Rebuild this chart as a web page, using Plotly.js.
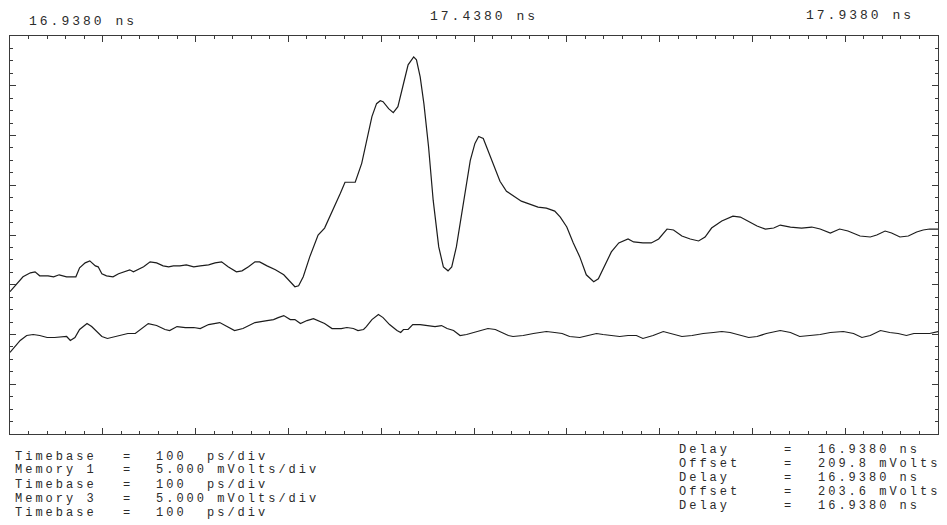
<!DOCTYPE html>
<html>
<head>
<meta charset="utf-8">
<script src="https://cdn.plot.ly/plotly-3.0.1.min.js"></script>
<style>
  html, body { margin: 0; padding: 0; background: #fff; }
  #chart { width: 947px; height: 525px; }
  .annotation-text { letter-spacing: 3px; }
</style>
</head>
<body>
<div id="chart"></div>
<script>
// Time after trigger delay (ps), 100 ps/div
const mem1Time = [0,7,14,22,27,32,41,47,53,61,71,75,81,86,92,95,99,104,111,117,124,129,133,137,144,151,158,165,171,176,183,190,198,205,214,221,228,235,244,250,257,264,269,277,286,295,302,307,311,316,323,332,339,348,356,361,372,379,384,390,395,399,402,408,413,418,424,429,435,438,442,446,451,456,462,467,472,476,481,489,496,501,505,510,515,521,528,535,542,551,560,569,578,587,593,600,607,614,621,629,634,641,648,656,666,672,682,691,699,708,715,724,733,742,749,756,767,779,787,797,805,814,823,830,841,853,864,873,884,894,903,916,927,934,943,950,959,968,977,984,991,1000];
// Memory 1 (mV relative to screen centre, 5 mV/div)
const mem1Volt = [-5.7,-5.0,-4.2,-3.8,-3.7,-4.1,-4.1,-4.2,-4.0,-4.2,-4.2,-3.3,-2.8,-2.6,-3.1,-3.2,-3.9,-4.1,-4.2,-3.9,-3.7,-3.5,-3.7,-3.5,-3.2,-2.7,-2.8,-3.1,-3.2,-3.1,-3.1,-3.0,-3.2,-3.1,-3.0,-2.8,-2.7,-3.2,-3.7,-3.6,-3.2,-2.7,-2.7,-3.1,-3.5,-4.0,-4.7,-5.2,-5.1,-4.2,-2.2,0.0,0.7,2.5,4.2,5.3,5.3,7.2,9.2,11.9,13.2,13.5,13.4,12.7,12.3,12.9,15.2,17.1,17.9,17.6,15.9,13.2,8.9,3.5,-1.2,-3.2,-3.6,-3.2,-1.2,3.5,7.5,9.2,9.9,9.7,8.5,7.0,5.4,4.4,4.0,3.4,3.1,2.8,2.7,2.4,1.8,0.8,-0.8,-2.2,-4.0,-4.7,-4.4,-3.0,-1.7,-0.8,-0.4,-0.7,-0.8,-0.8,-0.4,0.6,0.5,-0.1,-0.4,-0.6,-0.2,0.7,1.4,1.9,1.8,1.3,0.9,0.6,0.7,1.0,0.8,0.7,0.8,0.6,0.2,0.6,0.4,-0.1,-0.2,0.0,0.4,0.2,-0.2,-0.1,0.3,0.5,0.6,0.6];

const mem3Time = [0,5,11,18,25,32,40,48,56,61,65,70,75,83,88,93,99,105,113,122,127,135,142,149,158,167,172,180,189,198,205,214,226,234,242,251,264,277,284,289,295,302,307,313,320,327,332,339,347,357,363,370,375,381,384,390,397,402,409,417,421,424,429,434,442,451,458,465,471,478,485,492,499,508,515,523,530,537,542,553,564,571,578,587,595,603,614,623,632,639,648,657,666,675,682,693,704,711,717,724,735,747,758,767,776,787,796,805,815,830,841,851,862,873,884,898,909,918,927,938,948,957,966,974,984,991,1000];
// Memory 3 (mV relative to screen centre, 5 mV/div)
const mem3Volt = [-11.8,-11.2,-10.6,-10.1,-10.0,-10.1,-10.3,-10.3,-10.2,-10.2,-10.6,-10.3,-9.5,-8.9,-9.2,-9.7,-10.2,-10.4,-10.2,-10.0,-9.9,-9.9,-9.4,-8.9,-9.1,-9.5,-9.6,-9.2,-9.3,-9.3,-9.4,-9.0,-8.8,-9.2,-9.6,-9.4,-8.8,-8.6,-8.5,-8.3,-8.1,-8.5,-8.5,-8.9,-8.6,-8.4,-8.6,-8.9,-9.4,-9.4,-9.3,-9.4,-9.6,-9.5,-9.2,-8.5,-8.0,-8.3,-9.0,-9.6,-9.8,-9.5,-9.5,-9.0,-9.0,-9.1,-9.2,-9.1,-9.4,-9.6,-10.1,-10.0,-9.8,-9.6,-9.4,-9.5,-9.8,-10.1,-10.2,-10.1,-9.9,-9.8,-9.7,-9.8,-9.9,-10.2,-10.3,-10.1,-9.9,-10.0,-10.1,-10.2,-10.1,-10.1,-10.4,-10.1,-9.7,-9.9,-10.0,-10.2,-10.1,-9.9,-9.8,-9.7,-9.8,-10.1,-10.3,-10.2,-9.9,-9.6,-9.8,-10.2,-10.1,-10.0,-9.8,-9.7,-9.9,-10.3,-10.1,-9.6,-9.8,-9.9,-10.1,-9.9,-9.9,-9.9,-9.7];

const topLabels = ['16.9380 ns', '17.4380 ns', '17.9380 ns'];
const leftNames = ['Timebase', 'Memory 1', 'Timebase', 'Memory 3', 'Timebase'];
const leftValues = ['100  ps/div', '5.000 mVolts/div', '100  ps/div', '5.000 mVolts/div', '100  ps/div'];
const rightNames = ['Delay', 'Offset', 'Delay', 'Offset', 'Delay'];
const rightValues = ['16.9380 ns', '209.8 mVolts', '16.9380 ns', '203.6 mVolts', '16.9380 ns'];

// ---- layout geometry (pixels) ----
const W = 947, H = 525;
const M = {l: 10, r: 9, t: 36, b: 91};
const pw = W - M.l - M.r, ph = H - M.t - M.b;
const px = x => (x - M.l) / pw;
const py = y => (H - M.b - y) / ph;

const family = 'Liberation Mono, DejaVu Sans Mono, monospace';
const ann = [];
function addText(text, x, y, anchor, size) {
  ann.push({text: text, xref: 'paper', yref: 'paper', x: px(x), y: py(y),
            xanchor: anchor, yanchor: 'middle', showarrow: false, borderpad: 0,
            font: {family: family, size: size, color: '#2b2b2b'}});
}
addText(topLabels[0], 28, 21, 'left', 13);
addText(topLabels[1], 484, 16, 'center', 13);
addText(topLabels[2], 805, 15, 'left', 13);

const leftY = [456.5, 470.5, 484.5, 498.5, 512.5];
const rightY = [450, 464, 478, 492, 506];
leftNames.forEach((t, i) => {
  addText(t, 14, leftY[i], 'left', 12);
  addText('=', 128, leftY[i], 'center', 12);
  addText(leftValues[i], 155, leftY[i], 'left', 12);
});
rightNames.forEach((t, i) => {
  addText(t, 678, rightY[i], 'left', 12);
  addText('=', 789, rightY[i], 'center', 12);
  addText(rightValues[i], 817, rightY[i], 'left', 12);
});

const lineStyle = {color: '#1c1c1c', width: 1.2};
const traces = [
  {x: mem1Time, y: mem1Volt, type: 'scatter', mode: 'lines', line: lineStyle, name: 'Memory 1', hoverinfo: 'skip'},
  {x: mem3Time, y: mem3Volt, type: 'scatter', mode: 'lines', line: lineStyle, name: 'Memory 3', hoverinfo: 'skip'}
];

const axisCommon = {
  showgrid: false, zeroline: false, showticklabels: false,
  showline: true, linecolor: '#3a3a3a', linewidth: 1, mirror: 'ticks',
  ticks: 'inside', ticklen: 6, tickcolor: '#3a3a3a', tickwidth: 1,
  fixedrange: true
};
const layout = {
  width: W, height: H, margin: M,
  paper_bgcolor: '#ffffff', plot_bgcolor: '#ffffff',
  showlegend: false,
  xaxis: Object.assign({}, axisCommon, {range: [0, 1000], tick0: 0, dtick: 100,
    minor: {ticks: 'inside', dtick: 20, ticklen: 3, tickcolor: '#3a3a3a', tickwidth: 1}}),
  yaxis: Object.assign({}, axisCommon, {range: [-20, 20], tick0: 0, dtick: 5,
    minor: {ticks: 'inside', dtick: 1.25, ticklen: 3, tickcolor: '#3a3a3a', tickwidth: 1}}),
  annotations: ann
};
Plotly.newPlot('chart', traces, layout, {staticPlot: true, displayModeBar: false});
</script>
</body>
</html>
